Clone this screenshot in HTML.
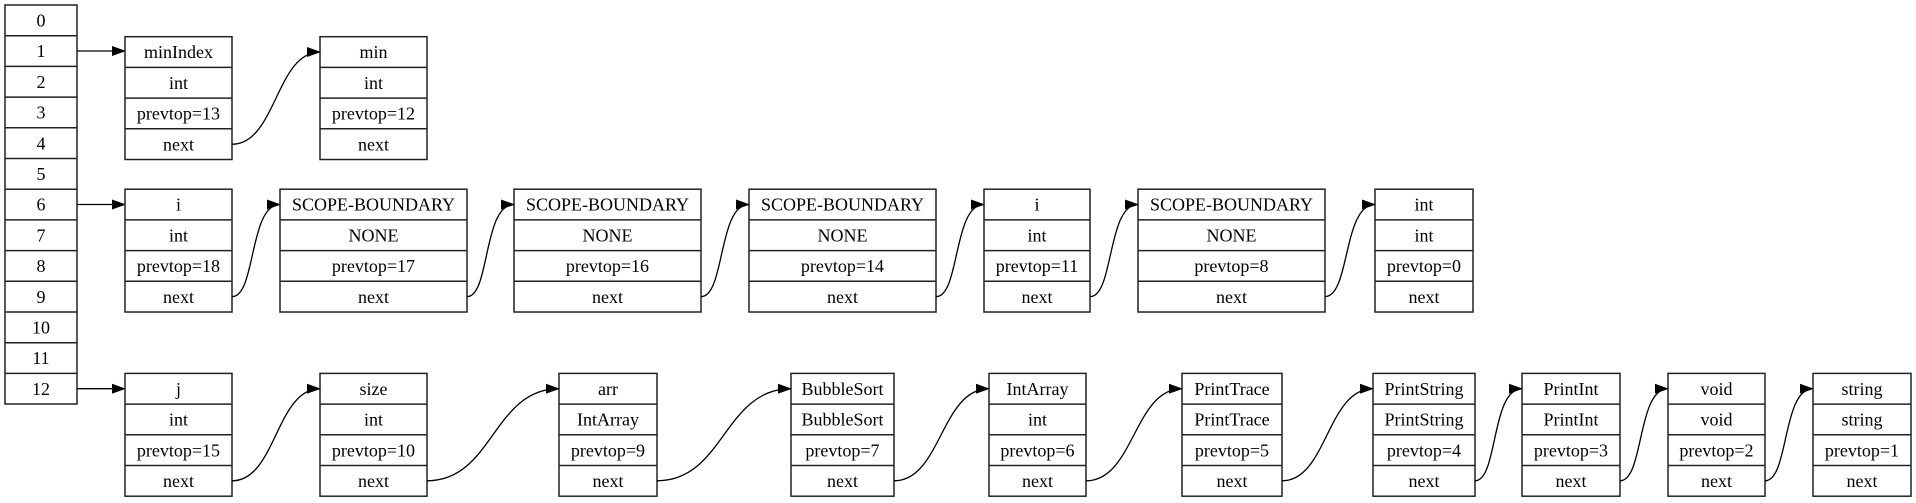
<!DOCTYPE html>
<html><head><meta charset="utf-8"><style>
html,body{margin:0;padding:0;background:#fff;}
svg{display:block}
text{font-family:"Liberation Serif",serif;font-size:18px;text-anchor:middle;fill:#000}
rect{fill:#fff;stroke:#222;stroke-width:1.5}
line{stroke:#222;stroke-width:1.5}
path.e{fill:none;stroke:#000;stroke-width:1.3}
</style></head><body>
<svg width="1916" height="503" viewBox="0 0 1916 503" xmlns="http://www.w3.org/2000/svg">
<defs><marker id="a" markerUnits="userSpaceOnUse" markerWidth="14" markerHeight="10" refX="13" refY="5" orient="auto"><path d="M0,0 L14,5 L0,10 z" fill="#000"/></marker></defs>

<rect x="5" y="5" width="72" height="399"/>
<line x1="5" y1="35.7" x2="77" y2="35.7"/><line x1="5" y1="66.4" x2="77" y2="66.4"/><line x1="5" y1="97.1" x2="77" y2="97.1"/><line x1="5" y1="127.8" x2="77" y2="127.8"/><line x1="5" y1="158.5" x2="77" y2="158.5"/><line x1="5" y1="189.2" x2="77" y2="189.2"/><line x1="5" y1="219.9" x2="77" y2="219.9"/><line x1="5" y1="250.6" x2="77" y2="250.6"/><line x1="5" y1="281.3" x2="77" y2="281.3"/><line x1="5" y1="312" x2="77" y2="312"/><line x1="5" y1="342.7" x2="77" y2="342.7"/><line x1="5" y1="373.4" x2="77" y2="373.4"/>
<text x="41" y="26.5">0</text><text x="41" y="57.2">1</text><text x="41" y="87.9">2</text><text x="41" y="118.6">3</text><text x="41" y="149.3">4</text><text x="41" y="180">5</text><text x="41" y="210.7">6</text><text x="41" y="241.4">7</text><text x="41" y="272.1">8</text><text x="41" y="302.8">9</text><text x="41" y="333.5">10</text><text x="41" y="364.2">11</text><text x="41" y="394.9">12</text>

<path class="e" d="M77,51 L125,51" marker-end="url(#a)"/>
<path class="e" d="M77,204.5 L125,204.5" marker-end="url(#a)"/>
<path class="e" d="M77,388.7 L125,388.7" marker-end="url(#a)"/>

<g transform="translate(125,36.7)"><rect width="107" height="122.8"/><line x1="0" y1="30.7" x2="107" y2="30.7"/><line x1="0" y1="61.4" x2="107" y2="61.4"/><line x1="0" y1="92.1" x2="107" y2="92.1"/><text x="53.5" y="21.5">minIndex</text><text x="53.5" y="52.2">int</text><text x="53.5" y="82.9">prevtop=13</text><text x="53.5" y="113.6">next</text></g>
<g transform="translate(320,36.7)"><rect width="107" height="122.8"/><line x1="0" y1="30.7" x2="107" y2="30.7"/><line x1="0" y1="61.4" x2="107" y2="61.4"/><line x1="0" y1="92.1" x2="107" y2="92.1"/><text x="53.5" y="21.5">min</text><text x="53.5" y="52.2">int</text><text x="53.5" y="82.9">prevtop=12</text><text x="53.5" y="113.6">next</text></g>
<path class="e" d="M232,144.2 C276,144.2 276,52 320,52" marker-end="url(#a)"/>

<g transform="translate(125,189.2)"><rect width="107" height="122.8"/><line x1="0" y1="30.7" x2="107" y2="30.7"/><line x1="0" y1="61.4" x2="107" y2="61.4"/><line x1="0" y1="92.1" x2="107" y2="92.1"/><text x="53.5" y="21.5">i</text><text x="53.5" y="52.2">int</text><text x="53.5" y="82.9">prevtop=18</text><text x="53.5" y="113.6">next</text></g>
<g transform="translate(280,189.2)"><rect width="187" height="122.8"/><line x1="0" y1="30.7" x2="187" y2="30.7"/><line x1="0" y1="61.4" x2="187" y2="61.4"/><line x1="0" y1="92.1" x2="187" y2="92.1"/><text x="93.5" y="21.5">SCOPE-BOUNDARY</text><text x="93.5" y="52.2">NONE</text><text x="93.5" y="82.9">prevtop=17</text><text x="93.5" y="113.6">next</text></g>
<g transform="translate(514,189.2)"><rect width="187" height="122.8"/><line x1="0" y1="30.7" x2="187" y2="30.7"/><line x1="0" y1="61.4" x2="187" y2="61.4"/><line x1="0" y1="92.1" x2="187" y2="92.1"/><text x="93.5" y="21.5">SCOPE-BOUNDARY</text><text x="93.5" y="52.2">NONE</text><text x="93.5" y="82.9">prevtop=16</text><text x="93.5" y="113.6">next</text></g>
<g transform="translate(749,189.2)"><rect width="187" height="122.8"/><line x1="0" y1="30.7" x2="187" y2="30.7"/><line x1="0" y1="61.4" x2="187" y2="61.4"/><line x1="0" y1="92.1" x2="187" y2="92.1"/><text x="93.5" y="21.5">SCOPE-BOUNDARY</text><text x="93.5" y="52.2">NONE</text><text x="93.5" y="82.9">prevtop=14</text><text x="93.5" y="113.6">next</text></g>
<g transform="translate(984,189.2)"><rect width="106" height="122.8"/><line x1="0" y1="30.7" x2="106" y2="30.7"/><line x1="0" y1="61.4" x2="106" y2="61.4"/><line x1="0" y1="92.1" x2="106" y2="92.1"/><text x="53" y="21.5">i</text><text x="53" y="52.2">int</text><text x="53" y="82.9">prevtop=11</text><text x="53" y="113.6">next</text></g>
<g transform="translate(1138,189.2)"><rect width="187" height="122.8"/><line x1="0" y1="30.7" x2="187" y2="30.7"/><line x1="0" y1="61.4" x2="187" y2="61.4"/><line x1="0" y1="92.1" x2="187" y2="92.1"/><text x="93.5" y="21.5">SCOPE-BOUNDARY</text><text x="93.5" y="52.2">NONE</text><text x="93.5" y="82.9">prevtop=8</text><text x="93.5" y="113.6">next</text></g>
<g transform="translate(1375,189.2)"><rect width="98" height="122.8"/><line x1="0" y1="30.7" x2="98" y2="30.7"/><line x1="0" y1="61.4" x2="98" y2="61.4"/><line x1="0" y1="92.1" x2="98" y2="92.1"/><text x="49" y="21.5">int</text><text x="49" y="52.2">int</text><text x="49" y="82.9">prevtop=0</text><text x="49" y="113.6">next</text></g>
<path class="e" d="M232,296.6 C256,296.6 249,204.5 280,204.5" marker-end="url(#a)"/>
<path class="e" d="M467,296.6 C490,296.6 483,204.5 514,204.5" marker-end="url(#a)"/>
<path class="e" d="M701,296.6 C725,296.6 718,204.5 749,204.5" marker-end="url(#a)"/>
<path class="e" d="M936,296.6 C960,296.6 953,204.5 984,204.5" marker-end="url(#a)"/>
<path class="e" d="M1090,296.6 C1114,296.6 1107,204.5 1138,204.5" marker-end="url(#a)"/>
<path class="e" d="M1325,296.6 C1350,296.6 1343,204.5 1375,204.5" marker-end="url(#a)"/>

<g transform="translate(125,373.4)"><rect width="107" height="122.8"/><line x1="0" y1="30.7" x2="107" y2="30.7"/><line x1="0" y1="61.4" x2="107" y2="61.4"/><line x1="0" y1="92.1" x2="107" y2="92.1"/><text x="53.5" y="21.5">j</text><text x="53.5" y="52.2">int</text><text x="53.5" y="82.9">prevtop=15</text><text x="53.5" y="113.6">next</text></g>
<g transform="translate(320,373.4)"><rect width="107" height="122.8"/><line x1="0" y1="30.7" x2="107" y2="30.7"/><line x1="0" y1="61.4" x2="107" y2="61.4"/><line x1="0" y1="92.1" x2="107" y2="92.1"/><text x="53.5" y="21.5">size</text><text x="53.5" y="52.2">int</text><text x="53.5" y="82.9">prevtop=10</text><text x="53.5" y="113.6">next</text></g>
<g transform="translate(559,373.4)"><rect width="98" height="122.8"/><line x1="0" y1="30.7" x2="98" y2="30.7"/><line x1="0" y1="61.4" x2="98" y2="61.4"/><line x1="0" y1="92.1" x2="98" y2="92.1"/><text x="49" y="21.5">arr</text><text x="49" y="52.2">IntArray</text><text x="49" y="82.9">prevtop=9</text><text x="49" y="113.6">next</text></g>
<g transform="translate(791,373.4)"><rect width="103" height="122.8"/><line x1="0" y1="30.7" x2="103" y2="30.7"/><line x1="0" y1="61.4" x2="103" y2="61.4"/><line x1="0" y1="92.1" x2="103" y2="92.1"/><text x="51.5" y="21.5">BubbleSort</text><text x="51.5" y="52.2">BubbleSort</text><text x="51.5" y="82.9">prevtop=7</text><text x="51.5" y="113.6">next</text></g>
<g transform="translate(989,373.4)"><rect width="97" height="122.8"/><line x1="0" y1="30.7" x2="97" y2="30.7"/><line x1="0" y1="61.4" x2="97" y2="61.4"/><line x1="0" y1="92.1" x2="97" y2="92.1"/><text x="48.5" y="21.5">IntArray</text><text x="48.5" y="52.2">int</text><text x="48.5" y="82.9">prevtop=6</text><text x="48.5" y="113.6">next</text></g>
<g transform="translate(1182,373.4)"><rect width="100" height="122.8"/><line x1="0" y1="30.7" x2="100" y2="30.7"/><line x1="0" y1="61.4" x2="100" y2="61.4"/><line x1="0" y1="92.1" x2="100" y2="92.1"/><text x="50" y="21.5">PrintTrace</text><text x="50" y="52.2">PrintTrace</text><text x="50" y="82.9">prevtop=5</text><text x="50" y="113.6">next</text></g>
<g transform="translate(1373,373.4)"><rect width="102" height="122.8"/><line x1="0" y1="30.7" x2="102" y2="30.7"/><line x1="0" y1="61.4" x2="102" y2="61.4"/><line x1="0" y1="92.1" x2="102" y2="92.1"/><text x="51" y="21.5">PrintString</text><text x="51" y="52.2">PrintString</text><text x="51" y="82.9">prevtop=4</text><text x="51" y="113.6">next</text></g>
<g transform="translate(1522,373.4)"><rect width="98" height="122.8"/><line x1="0" y1="30.7" x2="98" y2="30.7"/><line x1="0" y1="61.4" x2="98" y2="61.4"/><line x1="0" y1="92.1" x2="98" y2="92.1"/><text x="49" y="21.5">PrintInt</text><text x="49" y="52.2">PrintInt</text><text x="49" y="82.9">prevtop=3</text><text x="49" y="113.6">next</text></g>
<g transform="translate(1668,373.4)"><rect width="97" height="122.8"/><line x1="0" y1="30.7" x2="97" y2="30.7"/><line x1="0" y1="61.4" x2="97" y2="61.4"/><line x1="0" y1="92.1" x2="97" y2="92.1"/><text x="48.5" y="21.5">void</text><text x="48.5" y="52.2">void</text><text x="48.5" y="82.9">prevtop=2</text><text x="48.5" y="113.6">next</text></g>
<g transform="translate(1813,373.4)"><rect width="98" height="122.8"/><line x1="0" y1="30.7" x2="98" y2="30.7"/><line x1="0" y1="61.4" x2="98" y2="61.4"/><line x1="0" y1="92.1" x2="98" y2="92.1"/><text x="49" y="21.5">string</text><text x="49" y="52.2">string</text><text x="49" y="82.9">prevtop=1</text><text x="49" y="113.6">next</text></g>
<path class="e" d="M232,480.8 C276,480.8 276,388.7 320,388.7" marker-end="url(#a)"/>
<path class="e" d="M427,480.8 C493,480.8 493,388.7 559,388.7" marker-end="url(#a)"/>
<path class="e" d="M657,480.8 C724,480.8 724,388.7 791,388.7" marker-end="url(#a)"/>
<path class="e" d="M894,480.8 C941,480.8 941,388.7 989,388.7" marker-end="url(#a)"/>
<path class="e" d="M1086,480.8 C1134,480.8 1134,388.7 1182,388.7" marker-end="url(#a)"/>
<path class="e" d="M1282,480.8 C1327,480.8 1327,388.7 1373,388.7" marker-end="url(#a)"/>
<path class="e" d="M1475,480.8 C1498,480.8 1491,388.7 1522,388.7" marker-end="url(#a)"/>
<path class="e" d="M1620,480.8 C1644,480.8 1637,388.7 1668,388.7" marker-end="url(#a)"/>
<path class="e" d="M1765,480.8 C1789,480.8 1782,388.7 1813,388.7" marker-end="url(#a)"/>
</svg>
</body></html>
